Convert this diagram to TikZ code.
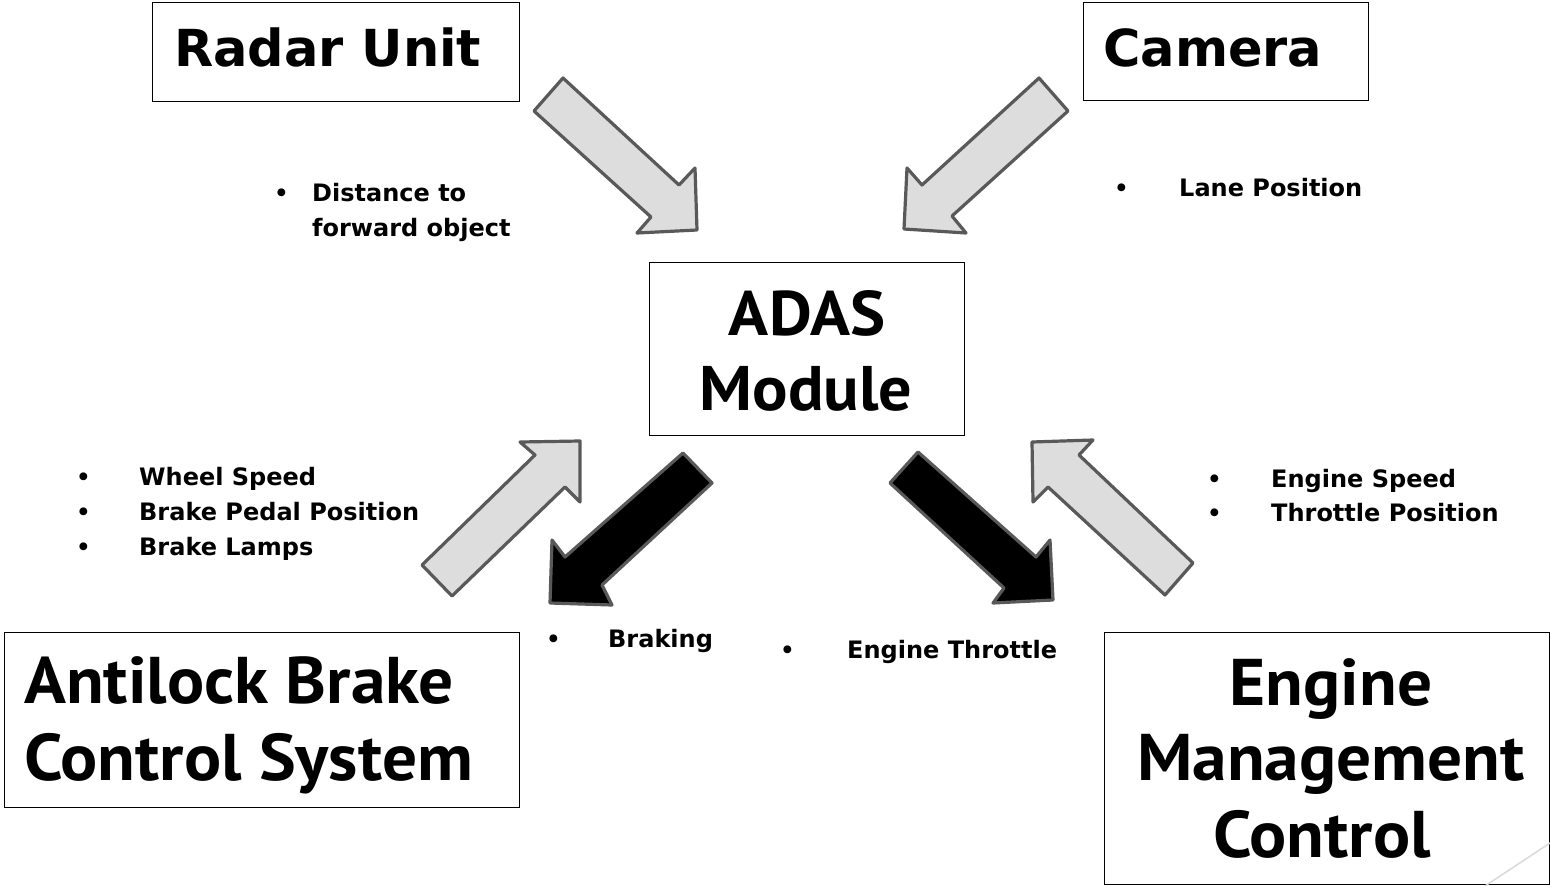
\documentclass[tikz,border=0pt]{standalone}
\usepackage{fontspec}
\setmainfont{PT Sans}
\newfontfamily\labelfont{DejaVu Sans}
\usepackage{graphicx}
\definecolor{arrowgray}{HTML}{DDDDDD}
\definecolor{arrowedge}{HTML}{595959}
\definecolor{decoline}{HTML}{D9D9D9}
\newcommand{\wide}[1]{\scalebox{1.05}[1]{#1}}
\begin{document}
\begin{tikzpicture}[x=1pt,y=-1pt,
  boxshape/.style={draw=black, line width=1.3pt, inner sep=0pt, anchor=north west},
  bigtxt/.style={inner sep=0pt, font=\bfseries\fontsize{66}{70}\selectfont},
  midtxt/.style={inner sep=0pt, font=\labelfont\bfseries\fontsize{51}{60}\selectfont},
  admtxt/.style={inner sep=0pt, font=\bfseries\fontsize{63}{66}\selectfont},
  smalltxt/.style={inner sep=0pt, anchor=base west, font=\labelfont\bfseries\fontsize{24}{28}\selectfont},
  bullettxt/.style={inner sep=0pt, anchor=base west, font=\fontsize{28}{30}\selectfont},
  inarrow/.style={fill=arrowgray, draw=arrowedge, line width=3.2pt, line join=round},
  outarrow/.style={fill=black, draw=arrowedge, line width=3.2pt, line join=round}]
\useasboundingbox (0,0) rectangle (1550,886);

% boxes
\node[boxshape, minimum width=367pt, minimum height=99pt] (radar) at (152,2) {};
\node[boxshape, minimum width=285pt, minimum height=98pt] (camera) at (1083,2) {};
\node[boxshape, minimum width=315pt, minimum height=173pt] (adas) at (649,262) {};
\node[boxshape, minimum width=515pt, minimum height=175pt] (abs) at (4,632) {};
\node[boxshape, minimum width=445pt, minimum height=252pt] (ems) at (1104,632) {};

% box texts
\node[midtxt, anchor=base west] (radart) at (174,66) {Radar Unit};
\node[midtxt, anchor=base west] (camerat) at (1103,66) {Camera};
\node[admtxt, anchor=base] (adast1) at (807,335) {\wide{ADAS}};
\node[admtxt, anchor=base] (adast2) at (806,410) {\wide{Module}};
\node[bigtxt, anchor=base west] (abst1) at (24,703) {\wide{Antilock Brake}};
\node[bigtxt, anchor=base west] (abst2) at (24,780) {\wide{Control System}};
\node[bigtxt, anchor=base] (emst1) at (1331,705) {\wide{Engine}};
\node[bigtxt, anchor=base] (emst2) at (1331,780) {\wide{Management}};
\node[bigtxt, anchor=base] (emst3) at (1322,857) {\wide{Control}};

% arrows
\draw[inarrow] (563,78) -- (534,111) -- (651,217) -- (637,233) -- (697,230) -- (695,168) -- (679,185) -- cycle;
\draw[inarrow] (1039,78) -- (1068,111) -- (952,216) -- (966,233) -- (904,229) -- (907,168) -- (922,185) -- cycle;
\draw[inarrow] (422,565) -- (452,596) -- (565,487) -- (580,502) -- (580,441) -- (520,442) -- (535,455) -- cycle;
\draw[outarrow] (683,453) -- (712,483) -- (602,585) -- (612,605) -- (550,603) -- (552,540) -- (565,557) -- cycle;
\draw[outarrow] (918,452) -- (890,483) -- (1004,588) -- (993,603) -- (1053,600) -- (1050,540) -- (1036,557) -- cycle;
\draw[inarrow] (1193,563) -- (1165,595) -- (1048,487) -- (1033,502) -- (1032,442) -- (1093,440) -- (1079,455) -- cycle;

% labels
\node[bullettxt] (b1) at (275,201) {•};
\node[smalltxt] (l1a) at (312,201) {Distance to};
\node[smalltxt] (l1b) at (312,236) {forward object};

\node[bullettxt] (b2) at (1115,196) {•};
\node[smalltxt] (l2) at (1179,196) {Lane Position};

\node[bullettxt] (b3) at (77,485) {•};
\node[bullettxt] (b4) at (77,520) {•};
\node[bullettxt] (b5) at (77,555) {•};
\node[smalltxt] (l3) at (139,485) {Wheel Speed};
\node[smalltxt] (l4) at (139,520) {Brake Pedal Position};
\node[smalltxt] (l5) at (139,555) {Brake Lamps};

\node[bullettxt] (b6) at (1208,487) {•};
\node[bullettxt] (b7) at (1208,521) {•};
\node[smalltxt] (l6) at (1271,487) {Engine Speed};
\node[smalltxt] (l7) at (1271,521) {Throttle Position};

\node[bullettxt] (b8) at (547,647) {•};
\node[smalltxt] (l8) at (608,647) {Braking};
\node[bullettxt] (b9) at (781,658) {•};
\node[smalltxt] (l9) at (847,658) {Engine Throttle};

% slide decoration
\draw[decoline, line width=1.5pt] (1485,886) -- (1550,843);
\end{tikzpicture}
\end{document}
